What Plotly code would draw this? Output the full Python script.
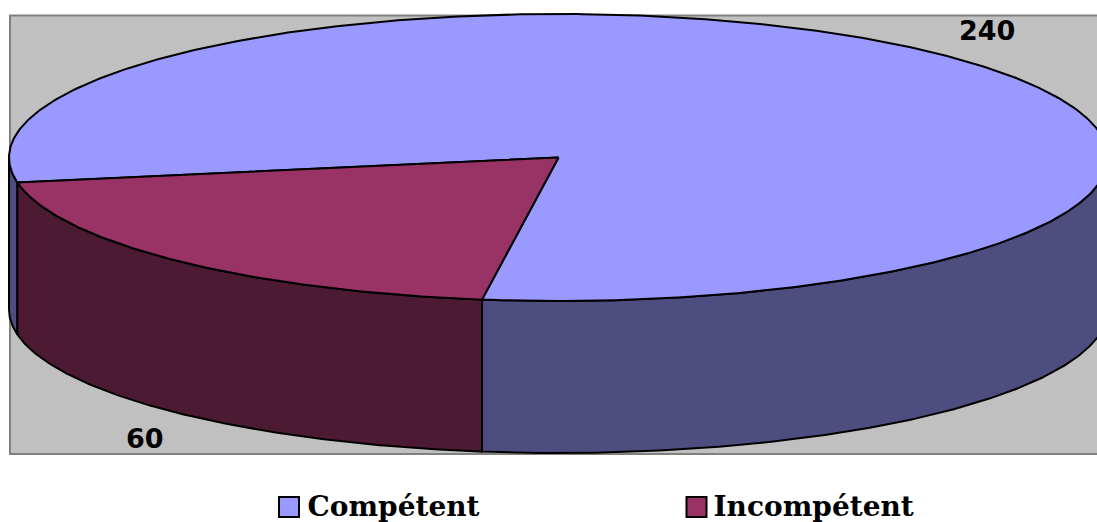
import numpy as np
import plotly.graph_objects as go

categories = ["Compétent", "Incompétent"]
values = [240, 60]
top_colors = ["#9999FF", "#993366"]
side_colors = ["#4D4D80", "#4D1A33"]

# pie geometry, in axis units of the plot
CX, CY, RX, RY, DEPTH = 558.5, 157.5, 549.5, 143.5, 152
START = 170.0   # where the first slice begins (deg, screen clockwise from +x)

def pt(t_deg, dy=0.0):
    t = np.radians(t_deg)
    return CX + RX * np.cos(t), CY + RY * np.sin(t) + dy

def arc(a, b, dy=0.0):
    n = max(2, int(abs(b - a) * 2) + 1)
    return pt(np.linspace(a, b, n), dy)

spans = []
a = START
total = sum(values)
for v in values:
    spans.append((a, a + 360.0 * v / total))
    a += 360.0 * v / total

fig = go.Figure()
OUTLINE = dict(color="black", width=2)

def add_wall(a, b, color):
    x1, y1 = arc(a, b)
    x2, y2 = arc(b, a, DEPTH)
    fig.add_trace(go.Scatter(
        x=np.r_[x1, x2, x1[0]], y=np.r_[y1, y2, y1[0]], mode="lines",
        fill="toself", fillcolor=color, line=OUTLINE,
        showlegend=False, hoverinfo="skip"))

# visible front walls: angles between 0 and 180 on screen
for (a, b), color in zip(spans, side_colors):
    for k in (-360, 0):
        lo, hi = max(a + k, 0), min(b + k, 180)
        if lo < hi:
            add_wall(lo, hi, color)

# top faces
for (a, b), color, name in zip(spans, top_colors, categories):
    x1, y1 = arc(a, b)
    fig.add_trace(go.Scatter(
        x=np.r_[CX, x1, CX], y=np.r_[CY, y1, CY], mode="lines",
        fill="toself", fillcolor=color, line=OUTLINE,
        showlegend=False, hoverinfo="skip"))

# legend row, drawn below the plot frame
LEG_Y = 507
fig.add_trace(go.Scatter(
    x=[289, 696.5], y=[LEG_Y, LEG_Y], mode="markers",
    showlegend=False, hoverinfo="skip",
    marker=dict(symbol="square", size=20, color=top_colors,
                line=dict(color="black", width=2))))
fig.add_trace(go.Scatter(
    x=[307.5, 713.5], y=[LEG_Y + 2, LEG_Y + 2], mode="text",
    text=categories, textposition="middle right",
    showlegend=False, hoverinfo="skip",
    textfont=dict(family="DejaVu Serif", size=28, color="black", weight="bold")))

# data labels
label_font = dict(family="DejaVu Sans", size=27, color="black", weight="bold")
for val, (lx, ly) in zip(values, [(987, 30), (145, 438)]):
    fig.add_annotation(x=lx, y=ly, text=str(val), showarrow=False, font=label_font)

# plot frame
fig.add_shape(type="rect", x0=10, x1=1099, y0=15.5, y1=454, layer="below",
              fillcolor="#C0C0C0", line=dict(color="#808080", width=2))

fig.update_layout(
    width=1097, height=522,
    margin=dict(l=0, r=0, t=0, b=0, autoexpand=False),
    paper_bgcolor="white", plot_bgcolor="white",
    xaxis=dict(range=[0, 1097], visible=False),
    yaxis=dict(range=[522, 0], visible=False),
    showlegend=False,
)

fig.write_html("out.html", config={"displayModeBar": False},
               post_script='document.body.style.margin="0";')
